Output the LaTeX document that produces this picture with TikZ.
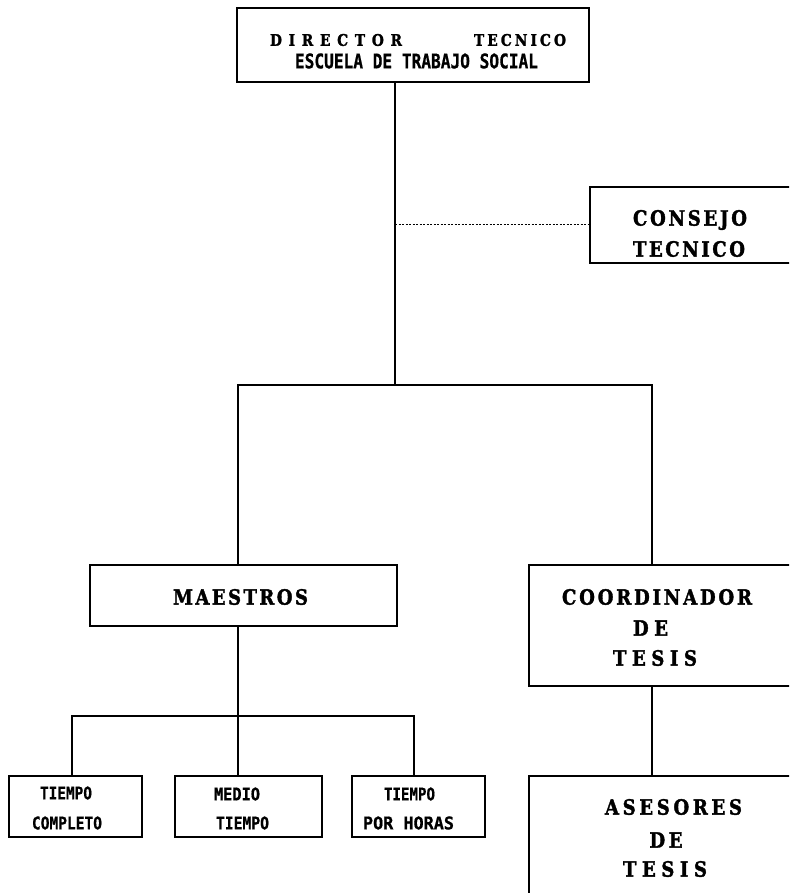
\documentclass[tikz,border=0pt]{standalone}
\usepackage{fontspec}
\usepackage{graphicx}
\newfontface\titlef{DejaVu Serif Bold}[FakeBold=1.8]
\newfontface\smallf{DejaVu Sans Mono Bold}[FakeBold=0.8]
\def\spreadaux#1{\ifx#1\relax\else\scalebox{0.86}[1]{#1}\hfil\expandafter\spreadaux\fi}
\newcommand\spreadword[2]{\makebox[#1][s]{\spreadaux#2\relax\unskip}}
\newcommand\ttl[2]{{\titlef\fontsize{21}{24}\selectfont\spreadword{#1}{#2}}}
\newcommand\sml[3]{\resizebox{#1}{#2}{\smallf #3}}
\tikzset{
  box/.style={draw, line width=1.8pt, rectangle, inner sep=0pt},
  conn/.style={line width=1.6pt},
  dotline/.style={line width=1pt, dash pattern=on 2pt off 1.5pt},
  lbl/.style={inner sep=0pt, anchor=center},
}
\begin{document}
\begin{tikzpicture}[x=1pt,y=-1pt]
\useasboundingbox (0,0) rectangle (789,893);
\fill[white] (0,0) rectangle (789,893);
\clip (0,0) rectangle (789,893);
% boxes
\node[box, minimum width=352pt, minimum height=74pt] (dir) at (413,45) {};
\node[box, minimum width=230pt, minimum height=76pt] (cons) at (705,225) {};
\node[box, minimum width=307pt, minimum height=61pt] (mae) at (243.5,595.5) {};
\node[box, minimum width=291pt, minimum height=121pt] (coord) at (674.5,625.5) {};
\node[box, minimum width=291pt, minimum height=154pt] (ases) at (674.5,853) {};
\node[box, minimum width=133pt, minimum height=61pt] (b1) at (75.5,806.5) {};
\node[box, minimum width=147pt, minimum height=61pt] (b2) at (248.5,806.5) {};
\node[box, minimum width=133pt, minimum height=61pt] (b3) at (418.5,806.5) {};
% junctions
\coordinate (jt) at (395,385);
\coordinate (jl) at (238,385);
\coordinate (jr) at (652,385);
\coordinate (ml) at (72,716);
\coordinate (mc) at (238,716);
\coordinate (mr) at (414,716);
% connectors
\draw[conn] (dir.south -| jt) -- (jt);
\draw[conn] (mae.north -| jl) -- (jl) -- (jr) -- (coord.north -| jr);
\draw[dotline] (jt |- cons.west) -- (cons.west);
\draw[conn] (mae.south -| mc) -- (b2.north -| mc);
\draw[conn] (b1.north -| ml) -- (ml) -- (mr) -- (b3.north -| mr);
\draw[conn] (coord.south -| jr) -- (ases.north -| jr);
% texts
\node[lbl] (t1) at (336,40) {{\titlef\fontsize{16}{19}\selectfont\spreadword{132pt}{DIRECTOR}}};
\node[lbl] (t2) at (520,40) {{\titlef\fontsize{16}{19}\selectfont\spreadword{92pt}{TECNICO}}};
\node[lbl] (t3) at (416.5,61) {\sml{243pt}{15pt}{ESCUELA DE TRABAJO SOCIAL}};
\node[lbl] (t4) at (690,220) {\ttl{114pt}{CONSEJO}};
\node[lbl] (t5) at (689,249) {\ttl{112pt}{TECNICO}};
\node[lbl] (t6) at (240.5,597) {\ttl{135pt}{MAESTROS}};
\node[lbl] (t7) at (657,597) {\ttl{190pt}{COORDINADOR}};
\node[lbl] (t8) at (650.5,628) {\ttl{35pt}{DE}};
\node[lbl] (t9) at (655,658) {\ttl{84pt}{TESIS}};
\node[lbl] (t10) at (673.5,807) {\ttl{137pt}{ASESORES}};
\node[lbl] (t11) at (666,840) {\ttl{33pt}{DE}};
\node[lbl] (t12) at (665,869) {\ttl{84pt}{TESIS}};
\node[lbl] (t13) at (66,793) {\sml{52pt}{13pt}{TIEMPO}};
\node[lbl] (t14) at (67,823) {\sml{70pt}{13pt}{COMPLETO}};
\node[lbl] (t15) at (237,794) {\sml{46pt}{13pt}{MEDIO}};
\node[lbl] (t16) at (242.5,823) {\sml{53pt}{13pt}{TIEMPO}};
\node[lbl] (t17) at (409.5,794) {\sml{51pt}{13pt}{TIEMPO}};
\node[lbl] (t18) at (408.5,823) {\sml{91pt}{13pt}{POR  HORAS}};
\end{tikzpicture}
\end{document}
